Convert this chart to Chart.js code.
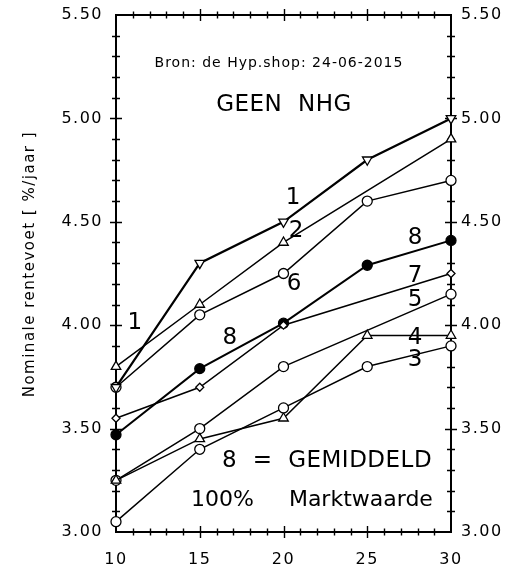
<!DOCTYPE html>
<html>
<head>
<meta charset="utf-8">
<script src="https://cdn.jsdelivr.net/npm/chart.js@4.4.1/dist/chart.umd.min.js"></script>
<style>
  html, body { margin: 0; padding: 0; background: #fff; }
  canvas { display: block; }
</style>
</head>
<body>
<canvas id="rente" width="507" height="568"></canvas>
<script>
// rentevaste periode (jaren) en nominale rente per aanbieder, bron: de Hypshop 24-06-2015
const looptijden = [10, 15, 20, 25, 30];
const aanbieder1 = [3.70, 4.30, 4.50, 4.80, 5.00];
const aanbieder2 = [3.80, 4.10, 4.40, null, 4.90];
const aanbieder3 = [3.05, 3.40, 3.60, 3.80, 3.90];
const aanbieder4 = [3.25, 3.45, 3.55, 3.95, 3.95];
const aanbieder5 = [3.25, 3.50, 3.80, null, 4.15];
const aanbieder6 = [3.70, 4.05, 4.25, 4.60, 4.70];
const aanbieder7 = [3.55, 3.70, 4.00, null, 4.25];
const gemiddeld  = [3.47, 3.79, 4.01, 4.29, 4.41];

const xTicks = [10, 15, 20, 25, 30];
const yTicks = [3.00, 3.50, 4.00, 4.50, 5.00, 5.50];

const FONT = "'DejaVu Sans', 'Liberation Sans', sans-serif";

// teksten in de grafiek, geplaatst in data-coordinaten
const teksten = [
    { t: 'Bron: de Hyp.shop: 24-06-2015', x: 19.73, y: 5.268, size: 14, sp: 1 },
    { t: 'GEEN  NHG', x: 20.03, y: 5.065, size: 23, sp: 0.5 },
    { t: '8  =  GEMIDDELD', x: 22.6, y: 3.343, size: 23, sp: 0.5 },
    { t: '100%     Marktwaarde', x: 21.7, y: 3.155, size: 22, sp: 0 },
    { t: '1', x: 11.13, y: 4.01, size: 23, sp: 0 },
    { t: '1', x: 20.57, y: 4.615, size: 23, sp: 0 },
    { t: '2', x: 20.75, y: 4.455, size: 23, sp: 0 },
    { t: '6', x: 20.63, y: 4.20, size: 23, sp: 0 },
    { t: '8', x: 16.8, y: 3.94, size: 23, sp: 0 },
    { t: '8', x: 27.85, y: 4.42, size: 23, sp: 0 },
    { t: '7', x: 27.85, y: 4.24, size: 23, sp: 0 },
    { t: '5', x: 27.85, y: 4.12, size: 23, sp: 0 },
    { t: '4', x: 27.85, y: 3.94, size: 23, sp: 0 },
    { t: '3', x: 27.85, y: 3.83, size: 23, sp: 0 },
];

function serie(label, values, style, opts = {}) {
    return {
        label: label,
        data: looptijden.map((x, i) => ({ x: x, y: values[i] })),
        borderColor: '#000',
        borderWidth: opts.width || 1.5,
        pointStyle: style,
        pointRotation: opts.rot || 0,
        pointRadius: opts.r || 5,
        pointBorderColor: '#000',
        pointBorderWidth: 1.3,
        pointBackgroundColor: opts.fill || '#fff',
        tension: 0,
        spanGaps: true,
        clip: false,
    };
}

// kader met kruisende streepjes op alle vier de assen
const kader = {
    id: 'kader',
    beforeDraw(chart) {
        chart.ctx.letterSpacing = '1.5px';
    },
    beforeDatasetsDraw(chart) {
        const { ctx, chartArea: a, scales: { x, y } } = chart;
        ctx.letterSpacing = '0px';
        ctx.save();
        ctx.strokeStyle = '#000';
        ctx.lineWidth = 1.4;
        ctx.beginPath();
        for (let v = 11; v < 30; v++) {
            const px = Math.round(x.getPixelForValue(v)) + 0.5;
            const len = v % 5 === 0 ? 6 : 3.5;
            ctx.moveTo(px, a.bottom - len); ctx.lineTo(px, a.bottom + len);
            ctx.moveTo(px, a.top - len); ctx.lineTo(px, a.top + len);
        }
        for (let i = 1; i < 25; i++) {
            const py = Math.round(y.getPixelForValue(3 + i / 10)) + 0.5;
            const len = i % 5 === 0 ? 6 : 4;
            ctx.moveTo(a.left - len, py); ctx.lineTo(a.left + len, py);
            ctx.moveTo(a.right - len, py); ctx.lineTo(a.right + len, py);
        }
        ctx.stroke();
        ctx.lineWidth = 2;
        ctx.strokeRect(a.left, a.top, a.right - a.left, a.bottom - a.top);
        ctx.restore();
    },
    afterDatasetsDraw(chart) {
        const { ctx, scales: { x, y } } = chart;
        ctx.save();
        ctx.fillStyle = '#000';
        ctx.textAlign = 'center';
        ctx.textBaseline = 'middle';
        teksten.forEach(l => {
            ctx.font = `${l.size}px ${FONT}`;
            ctx.letterSpacing = l.sp + 'px';
            ctx.fillText(l.t, x.getPixelForValue(l.x), y.getPixelForValue(l.y));
        });
        ctx.restore();
        ctx.letterSpacing = '0px';
    }
};

const yAs = (pos, width) => ({
    type: 'linear',
    position: pos,
    min: 3,
    max: 5.5,
    afterBuildTicks: s => { s.ticks = yTicks.map(v => ({ value: v })); },
    afterFit: s => {
        s.width = width;
        s.paddingTop = 0;
        s.paddingBottom = 0;
    },
    grid: { display: false, drawTicks: false },
    border: { display: false },
    ticks: {
        color: '#000',
        padding: pos === 'left' ? 13 : 10,
        font: { family: FONT, size: 16 },
        callback: v => v.toFixed(2),
    },
});

new Chart(document.getElementById('rente'), {
    type: 'line',
    data: {
        datasets: [
            serie('1', aanbieder1, 'triangle', { rot: 180, r: 5.5, width: 2.2 }),
            serie('2', aanbieder2, 'triangle', { r: 5.5 }),
            serie('3', aanbieder3, 'circle'),
            serie('4', aanbieder4, 'triangle', { r: 5.5 }),
            serie('5', aanbieder5, 'circle'),
            serie('6', aanbieder6, 'circle'),
            serie('7', aanbieder7, 'rectRot', { r: 4 }),
            serie('8', gemiddeld, 'circle', { fill: '#000', width: 2 }),
        ]
    },
    options: {
        responsive: false,
        animation: false,
        layout: { padding: { top: 15, left: 0, right: 0, bottom: 0 } },
        scales: {
            x: {
                type: 'linear',
                min: 10,
                max: 30,
                afterBuildTicks: s => { s.ticks = xTicks.map(v => ({ value: v })); },
                afterFit: s => { s.height = 36; },
                grid: { display: false, drawTicks: false },
                border: { display: false },
                ticks: {
                    color: '#000',
                    padding: 18,
                    maxRotation: 0,
                    font: { family: FONT, size: 16 },
                },
            },
            y: Object.assign(yAs('left', 116), {
                title: {
                    display: true,
                    text: '   Nominale rentevoet [ %/jaar ]',
                    color: '#000',
                    padding: { top: 21, bottom: 0 },
                    font: { family: FONT, size: 15 },
                },
            }),
            y2: yAs('right', 56),
        },
        plugins: {
            legend: { display: false },
            tooltip: { enabled: false },
        },
    },
    plugins: [kader],
});
</script>
</body>
</html>
